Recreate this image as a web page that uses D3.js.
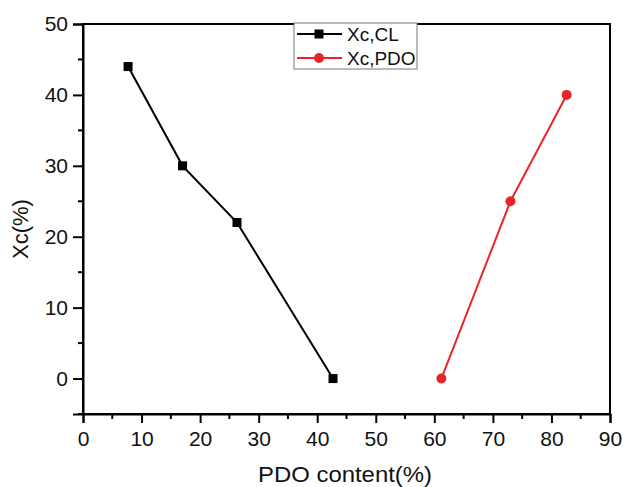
<!DOCTYPE html>
<html>
<head>
<meta charset="utf-8">
<script src="https://cdn.jsdelivr.net/npm/d3@7"></script>
<style>
  body { margin: 0; background: #fff; }
  svg { display: block; font-family: "Liberation Sans", Arial, sans-serif; }
</style>
</head>
<body>
<svg id="chart" width="623" height="487"></svg>
<script>
// Crystallinity series vs PDO content
const clContent = [7.7, 17.0, 26.3, 42.7];
const clXc = [44, 30, 22, 0];
const pdoContent = [61.2, 73.0, 82.6];
const pdoXc = [0, 25, 40];
const xTicks = [0, 10, 20, 30, 40, 50, 60, 70, 80, 90];
const yTicks = [0, 10, 20, 30, 40, 50];
const legendLabels = ["Xc,CL", "Xc,PDO"];
const seriesColors = ["#000000", "#e8262a"];

const svg = d3.select("#chart");
const margin = { left: 83, right: 13, top: 24, bottom: 73 };
const W = 623, H = 487;

const x = d3.scaleLinear().domain([0, 90]).range([margin.left, W - margin.right]);
const y = d3.scaleLinear().domain([-5, 50]).range([H - margin.bottom, margin.top]);

const axisColor = "#000";
const fontFam = "'Liberation Sans', Arial, sans-serif";

// Frame (top and right edges carry no ticks)
svg.append("rect")
  .attr("x", x(0)).attr("y", y(50))
  .attr("width", x(90) - x(0)).attr("height", y(-5) - y(50))
  .attr("fill", "none").attr("stroke", axisColor).attr("stroke-width", 2);

// Minor ticks
const xMinor = d3.range(5, 90, 10);
const yMinor = d3.range(-5, 50, 10);
const g = svg.append("g");
g.selectAll(".xminor").data(xMinor).join("line")
  .attr("x1", d => x(d)).attr("x2", d => x(d))
  .attr("y1", y(-5)).attr("y2", y(-5) + 5)
  .attr("stroke", axisColor).attr("stroke-width", 2);
g.selectAll(".yminor").data(yMinor).join("line")
  .attr("x1", x(0) - 5).attr("x2", x(0))
  .attr("y1", d => y(d)).attr("y2", d => y(d))
  .attr("stroke", axisColor).attr("stroke-width", 2);

// Major axes
const xAxis = d3.axisBottom(x).tickValues(xTicks).tickSize(9).tickPadding(8).tickFormat(d3.format("d"));
const yAxis = d3.axisLeft(y).tickValues(yTicks).tickSize(10).tickPadding(5).tickFormat(d3.format("d"));

const gx = svg.append("g").attr("transform", `translate(0,${y(-5)})`).call(xAxis);
const gy = svg.append("g").attr("transform", `translate(${x(0)},0)`).call(yAxis);
[gx, gy].forEach(a => {
  a.attr("font-size", null).attr("font-family", null);
  a.select(".domain").attr("stroke", axisColor).attr("stroke-width", 2);
  a.selectAll(".tick line").attr("stroke", axisColor).attr("stroke-width", 2);
  a.selectAll(".tick text").attr("fill", "#111")
    .style("font-size", "21px").style("font-family", fontFam);
});

// Axis titles
svg.append("text")
  .attr("x", 345).attr("y", 482)
  .attr("text-anchor", "middle").attr("fill", "#111")
  .attr("textLength", 174).attr("lengthAdjust", "spacingAndGlyphs")
  .style("font-size", "22px").style("font-family", fontFam).text("PDO content(%)");
svg.append("text")
  .attr("transform", `translate(28,229) rotate(-90)`)
  .attr("text-anchor", "middle").attr("fill", "#111")
  .style("font-size", "22px").style("font-family", fontFam).text("Xc(%)");

// Series
const line = d3.line().x(d => x(d[0])).y(d => y(d[1]));
const clData = clContent.map((c, i) => [c, clXc[i]]);
const pdoData = pdoContent.map((c, i) => [c, pdoXc[i]]);

svg.append("path").datum(clData).attr("d", line)
  .attr("fill", "none").attr("stroke", seriesColors[0]).attr("stroke-width", 2);
svg.selectAll(".sq").data(clData).join("rect")
  .attr("x", d => x(d[0]) - 4.5).attr("y", d => y(d[1]) - 4.5)
  .attr("width", 9).attr("height", 9).attr("fill", seriesColors[0]);

svg.append("path").datum(pdoData).attr("d", line)
  .attr("fill", "none").attr("stroke", seriesColors[1]).attr("stroke-width", 2);
svg.selectAll(".dot").data(pdoData).join("circle")
  .attr("cx", d => x(d[0])).attr("cy", d => y(d[1])).attr("r", 5)
  .attr("fill", seriesColors[1]);

// Legend
const lg = svg.append("g").attr("transform", "translate(294,23)");
lg.append("rect").attr("width", 123).attr("height", 46)
  .attr("fill", "#fff").attr("stroke", "#777").attr("stroke-width", 1);
legendLabels.forEach((lab, i) => {
  const yy = 11 + i * 24;
  lg.append("line").attr("x1", 3).attr("x2", 48).attr("y1", yy).attr("y2", yy)
    .attr("stroke", seriesColors[i]).attr("stroke-width", 2);
  if (i === 0) {
    lg.append("rect").attr("x", 20.5).attr("y", yy - 4.5).attr("width", 9).attr("height", 9)
      .attr("fill", seriesColors[i]);
  } else {
    lg.append("circle").attr("cx", 25).attr("cy", yy).attr("r", 5).attr("fill", seriesColors[i]);
  }
  lg.append("text").attr("x", 53).attr("y", yy + 7)
    .attr("fill", "#111").style("font-size", "19px").style("font-family", fontFam).text(lab);
});
</script>
</body>
</html>
